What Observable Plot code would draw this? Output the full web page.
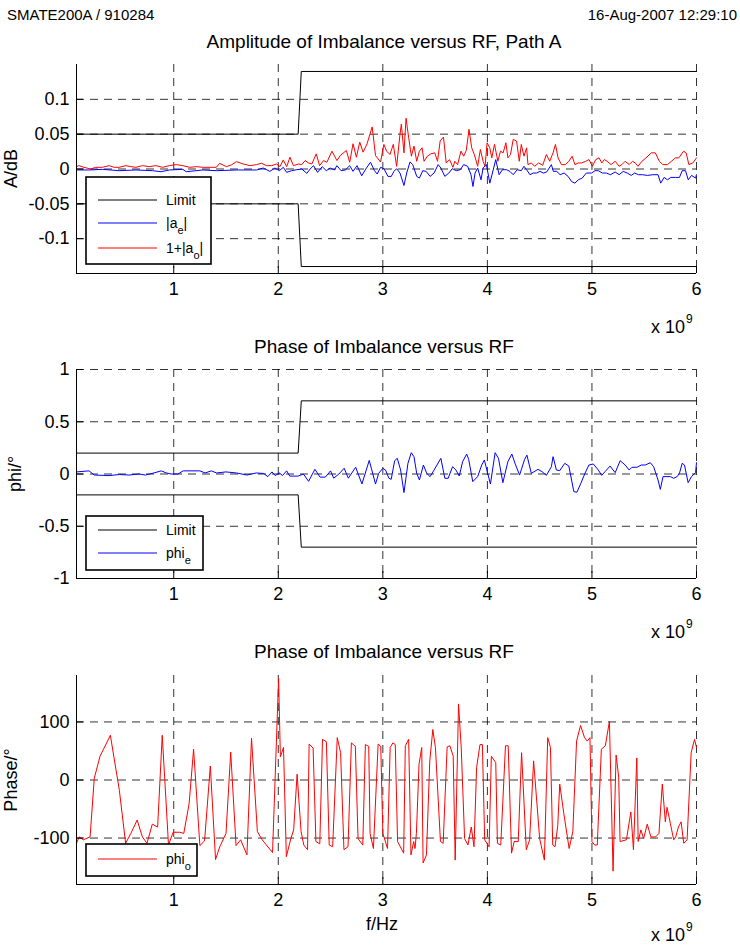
<!DOCTYPE html>
<html><head><meta charset="utf-8">
<script src="https://cdn.jsdelivr.net/npm/d3@7"></script>
<script src="https://cdn.jsdelivr.net/npm/@observablehq/plot@0.6"></script>
<style>
body{margin:0;background:#fff;}
#root{position:relative;width:740px;height:947px;overflow:hidden;background:#fff;font-family:"Liberation Sans",Arial,Helvetica,sans-serif;}
#root svg{position:absolute;left:0;}
</style></head><body><div id="root"></div>
<script>
// ---- axis ticks ----
const xDomain = [0.07, 6];
const xTicks = [1, 2, 3, 4, 5, 6];
const ampTicks = [-0.1, -0.05, 0, 0.05, 0.1];
const phiTicks = [-1, -0.5, 0, 0.5, 1];
const phaseTicks = [-100, 0, 100];

// ---- limits ----
const limitFreq = [0.07, 2.19, 2.22, 6];
const ampLimitUpper = [0.05, 0.05, 0.14, 0.14];
const ampLimitLower = [-0.05, -0.05, -0.14, -0.14];
const phiLimitUpper = [0.2, 0.2, 0.7, 0.7];
const phiLimitLower = [-0.2, -0.2, -0.7, -0.7];

// ---- panel 1: |a_e| (blue), frequency in GHz (x 10^9 Hz) ----
const ampEFreq = [
0.07,0.189,0.318,0.478,0.638,0.798,0.878,0.958,1.087,1.119,
1.279,1.407,1.6,1.792,1.856,1.92,1.968,2.01,2.048,2.08,
2.128,2.177,2.225,2.273,2.305,2.337,2.376,2.42,2.459,2.497,
2.536,2.561,2.6,2.641,2.683,2.715,2.753,2.798,2.843,2.882,
2.92,2.946,2.978,3.01,3.049,3.081,3.106,3.132,3.164,3.202,
3.228,3.26,3.286,3.324,3.35,3.382,3.414,3.452,3.49,3.529,
3.555,3.593,3.631,3.664,3.702,3.741,3.773,3.811,3.843,3.862,
3.882,3.907,3.939,3.959,3.991,4.023,4.048,4.08,4.112,4.144,
4.183,4.215,4.247,4.286,4.324,4.35,4.375,4.407,4.439,4.471,
4.503,4.535,4.567,4.612,4.631,4.663,4.696,4.734,4.772,4.805,
4.837,4.869,4.907,4.946,4.997,5.029,5.061,5.1,5.138,5.177,
5.222,5.26,5.299,5.337,5.376,5.408,5.446,5.485,5.53,5.581,
5.632,5.658,5.69,5.722,5.754,5.799,5.837,5.863,5.895,5.921,
5.953,5.991,6.0];
const ampE = [
-0.0014,-0.0014,-0.0005,-0.0024,-0.0014,-0.0024,-0.0039,-0.0014,-0.0005,-0.0039,
-0.0014,-0.0024,-0.0014,-0.0014,0.0014,-0.0034,0.0014,-0.0024,0.0024,-0.0048,
-0.0024,-0.001,0,-0.0063,0,0.0048,-0.0048,0.0034,-0.0024,0.0014,
-0.0014,0.0048,-0.0024,-0.0014,0.0048,-0.0034,0.0048,-0.0097,0.0014,0.0097,
-0.0024,-0.0072,0.0024,0.0005,-0.0106,-0.0106,-0.0034,0.0005,-0.0058,-0.0237,
-0.0058,0.0101,0.0063,-0.0106,-0.013,-0.0024,-0.0034,-0.0106,-0.0058,0.0063,
0.0014,-0.0106,-0.0058,0.0005,-0.0024,-0.001,0.0063,0.0039,-0.0082,-0.0251,
-0.0058,0.0014,-0.0155,0.0014,0.0063,-0.0203,-0.0058,0.0135,-0.0082,-0.001,
-0.001,-0.0034,-0.0082,-0.001,-0.0024,0.0039,-0.001,-0.0082,-0.0058,-0.0058,
-0.0034,-0.0058,-0.0043,0.0063,-0.0034,-0.0034,-0.0082,-0.0058,-0.0106,-0.0179,
-0.0203,-0.0155,-0.013,-0.0058,-0.0058,-0.0024,-0.0024,-0.0058,-0.0058,-0.0082,
-0.0043,-0.0082,-0.0034,-0.0058,-0.0092,-0.0058,-0.0082,-0.0082,-0.0092,-0.0082,
-0.0082,-0.0203,-0.0121,-0.0155,-0.0121,-0.0121,-0.0121,-0.0024,-0.0024,-0.0155,
-0.0092,-0.013,-0.0082];

// ---- panel 1: 1+|a_o| (red) ----
const ampOFreq = [
0.07,0.093,0.141,0.205,0.254,0.318,0.382,0.43,0.478,0.542,
0.59,0.638,0.702,0.766,0.83,0.894,0.958,1.023,1.087,1.151,
1.215,1.279,1.343,1.407,1.439,1.503,1.551,1.6,1.664,1.728,
1.792,1.84,1.888,1.936,1.984,2.016,2.048,2.08,2.112,2.145,
2.193,2.225,2.257,2.289,2.321,2.363,2.395,2.433,2.465,2.513,
2.561,2.593,2.651,2.683,2.715,2.747,2.779,2.811,2.849,2.898,
2.93,2.978,3.01,3.036,3.068,3.1,3.132,3.164,3.177,3.202,
3.222,3.247,3.273,3.298,3.324,3.35,3.375,3.394,3.426,3.458,
3.497,3.523,3.548,3.58,3.606,3.638,3.67,3.689,3.715,3.747,
3.773,3.798,3.824,3.85,3.875,3.907,3.933,3.959,3.978,3.997,
4.023,4.042,4.068,4.1,4.125,4.151,4.177,4.196,4.221,4.247,
4.279,4.305,4.324,4.35,4.375,4.388,4.42,4.452,4.49,4.529,
4.564,4.596,4.628,4.651,4.676,4.708,4.747,4.779,4.811,4.837,
4.869,4.901,4.94,4.972,5.004,5.036,5.068,5.094,5.119,5.145,
5.183,5.222,5.26,5.286,5.318,5.356,5.388,5.414,5.44,5.478,
5.517,5.568,5.606,5.645,5.677,5.722,5.76,5.799,5.831,5.876,
5.901,5.927,5.965,6.0];
const ampO = [
0.0034,0.0048,0.0024,0,0.0024,0.0024,0.0048,0.0024,0.0024,0.0048,
0.0034,0.0024,0.0048,0.0034,0.0048,0.0024,0.0048,0.0063,0.0048,0.0024,
0.0034,0.0024,0.0024,0.0024,0.0082,0.0034,0.0058,0.0106,0.0072,0.0048,
0.0063,0.0082,0.0048,0.0048,0.0072,0.0034,0.013,0.0034,0.0169,0.0048,
0.0072,0.0063,0.0121,0.0087,0.0072,0.0217,0.0048,0.0121,0.0097,0.0256,
0.0121,0.0193,0.0266,0.0097,0.0362,0.0169,0.0386,0.0242,0.0362,0.0604,
0.0193,0.01,0.0353,0.0256,0.0208,0.0353,0.0039,0.0498,0.0643,0.0232,
0.0729,0.0449,0.0184,0.0329,0.0111,0.0256,0.0304,0.0111,0.0184,0.0217,
0.0232,0.0111,0.0401,0.0459,0.0087,0.0135,0.0024,0.0111,0.0063,0.0256,
0.0184,0.0266,0.057,0.0304,0.0208,0.0039,0.028,0.0111,0.0039,0.0377,
0.0304,0.016,0.0353,0.0111,0.0256,0.0232,0.0377,0.016,0.0208,0.0425,
0.0401,0.0111,0.0353,0.0184,0.0304,0.0063,0.0087,0.0039,0.0087,0.0053,
0.0208,0.0111,0.0232,0.0353,0.016,0.0063,0.0063,0.0111,0.0184,0.0063,
0.0087,0.0087,0.0111,0.0135,0.0039,0.0135,0.016,0.0087,0.0135,0.0111,
0.0063,0.0111,0.0039,0.0063,0.0111,0.0063,0.0111,0.0087,0.0039,0.0111,
0.016,0.0232,0.0232,0.0111,0.0063,0.0063,0.0111,0.016,0.016,0.0256,
0.0232,0.0063,0.0087,0.016];

// ---- panel 2: phi_e (blue) ----
const phiEFreq = [
0.07,0.19,0.24,0.38,0.48,0.57,0.67,0.73,0.81,0.88,
0.93,0.975,1.04,1.09,1.25,1.3,1.36,1.41,1.5,1.6,
1.7,1.79,1.86,1.9,1.94,1.97,2.01,2.04,2.08,2.11,
2.19,2.24,2.29,2.35,2.4,2.45,2.5,2.53,2.58,2.63,
2.67,2.74,2.8,2.87,2.93,2.96,3.0,3.026,3.058,3.08,
3.113,3.138,3.17,3.202,3.24,3.272,3.298,3.324,3.35,3.388,
3.42,3.452,3.49,3.555,3.593,3.625,3.667,3.699,3.731,3.763,
3.802,3.821,3.86,3.907,3.946,3.971,4.003,4.029,4.074,4.106,
4.148,4.196,4.234,4.266,4.308,4.356,4.378,4.42,4.484,4.523,
4.564,4.612,4.628,4.66,4.692,4.74,4.779,4.827,4.856,4.894,
4.933,4.971,5.013,5.061,5.093,5.125,5.173,5.222,5.27,5.318,
5.356,5.382,5.43,5.472,5.51,5.558,5.59,5.632,5.654,5.68,
5.718,5.75,5.782,5.815,5.837,5.863,5.885,5.92,5.952,5.991,
6.0];
const phiE = [
0.02,0.03,-0.01,-0.015,-0.005,-0.01,0,-0.01,0.01,0.03,
0.01,0,0,0.03,0.03,0.01,0.03,0.01,0.02,0.01,
-0.01,0.01,0.005,-0.025,0.02,-0.015,0.01,-0.015,0.03,-0.02,
-0.02,0,-0.07,0.045,-0.03,-0.03,0.03,-0.04,0,0.055,
-0.04,0.065,-0.095,0.13,-0.096,0.006,0.054,0.038,-0.041,-0.051,
0.127,0.15,0.038,-0.178,0.102,0.204,0.166,0.006,-0.057,0.086,
0.006,-0.025,0.038,0.15,-0.041,-0.041,0.07,0.038,-0.019,0.118,
0.191,0.14,-0.073,-0.025,0.086,0.134,0.006,-0.096,0.204,0.15,
-0.083,0.118,0.191,0.096,-0.01,0.14,0.181,0.006,0.045,0.022,
-0.013,0.07,0.166,0.038,0.032,0.102,0.076,-0.169,-0.175,-0.089,
0.006,0.086,0.096,0.038,-0.013,0.022,0.076,0.013,0.127,0.086,
0.038,0.064,0.064,0.086,0.086,0.108,0.07,-0.057,-0.147,-0.025,
-0.025,-0.025,-0.041,-0.025,0.006,0.102,0.086,-0.083,-0.025,0.013,
0.108];

// ---- panel 3: phi_o (red) ----
const phiOFreq = [
0.07,0.096,0.135,0.2,0.24,0.295,0.394,0.48,0.54,0.59,
0.65,0.7,0.744,0.795,0.846,0.89,0.95,0.994,1.058,1.096,
1.147,1.19,1.25,1.295,1.35,1.4,1.44,1.5,1.545,1.596,
1.64,1.7,1.744,1.8,1.846,1.945,2.003,2.02,2.05,2.077,
2.12,2.147,2.18,2.218,2.244,2.28,2.295,2.333,2.36,2.397,
2.423,2.46,2.487,2.52,2.564,2.596,2.628,2.667,2.699,2.737,
2.763,2.808,2.833,2.865,2.878,2.91,2.955,2.98,3.0,3.045,
3.07,3.096,3.119,3.141,3.199,3.215,3.247,3.269,3.295,3.308,
3.321,3.346,3.372,3.385,3.417,3.449,3.478,3.503,3.551,3.577,
3.615,3.641,3.673,3.692,3.724,3.75,3.782,3.814,3.846,3.872,
3.897,3.929,3.952,3.974,4.016,4.038,4.08,4.096,4.128,4.173,
4.199,4.231,4.256,4.295,4.327,4.372,4.404,4.442,4.5,4.545,
4.577,4.603,4.625,4.647,4.673,4.692,4.731,4.782,4.817,4.853,
4.891,4.929,4.955,4.981,5.0,5.026,5.051,5.09,5.128,5.167,
5.202,5.231,5.256,5.269,5.33,5.372,5.397,5.429,5.442,5.468,
5.494,5.529,5.564,5.609,5.641,5.673,5.702,5.718,5.75,5.782,
5.801,5.827,5.853,5.878,5.91,5.949,5.981,6.0];
const phiO = [
-109,-98,-103,-98,3,41,77,-18,-109,-92,
-69,-98,-109,-76,-81,77,-112,-90,-90,-92,
-41,53,-113,-105,24,-137,-115,-92,48,-113,
-103,-129,72,-89,-103,-125,175,40,56,-132,
-101,-86,10,-89,-112,-120,62,55,-106,-110,
70,66,-112,-115,73,47,-120,-115,64,58,
-101,-112,61,58,-92,-118,62,58,-92,-118,
56,64,61,-106,-126,59,70,-129,-106,-118,
-92,27,56,-143,-129,33,87,56,-106,-109,
57,59,41,-138,131,55,-101,-112,-81,-115,
22,61,61,-103,-115,41,30,-109,-112,59,
59,-126,-106,-106,47,-120,-103,33,-101,-138,
73,56,-112,-115,-78,-7,-58,-118,-89,67,
94,73,67,73,-106,-112,-112,53,59,101,
-157,43,5,-106,-103,-55,-120,38,-106,-86,
-101,-76,-98,-98,-92,-7,-72,-47,-75,-103,
-98,-81,-72,-109,-103,47,70,56];

const FONT = '"Liberation Sans", Arial, Helvetica, sans-serif';
const root = document.getElementById("root");
const gridStyle = {stroke: "black", strokeOpacity: 0.8, strokeWidth: 1, strokeDasharray: "8,6"};

function panel({top, height, marginTop, yDomain, yTicks, marks}) {
  const svg = Plot.plot({
    width: 740, height,
    marginLeft: 76, marginRight: 44, marginTop, marginBottom: height - marginTop - 209,
    style: {fontFamily: FONT, fontSize: "18px", color: "black", background: "transparent", overflow: "visible"},
    x: {domain: xDomain},
    y: {domain: yDomain},
    marks: [
      Plot.gridX(xTicks, gridStyle),
      Plot.gridY(yTicks, gridStyle),
      ...marks,
      Plot.ruleX([xDomain[0]], {stroke: "black", strokeWidth: 1}),
      Plot.ruleY([yDomain[0]], {stroke: "black", strokeWidth: 1}),
      Plot.axisX(xTicks, {tickSize: -7, tickPadding: 16, tickFormat: d => String(d), label: null, fontSize: 18}),
      Plot.axisY(yTicks, {tickSize: -7, tickPadding: 14, tickFormat: d => String(d), label: null, fontSize: 18})
    ]
  });
  svg.style.top = top + "px";
  root.appendChild(svg);
}

panel({top: 50, height: 250, marginTop: 14, yDomain: [-0.15, 0.15], yTicks: ampTicks, marks: [
  Plot.line(ampLimitUpper, {x: limitFreq, y: ampLimitUpper, stroke: "black", strokeWidth: 1}),
  Plot.line(ampLimitLower, {x: limitFreq, y: ampLimitLower, stroke: "black", strokeWidth: 1}),
  Plot.line(ampE, {x: ampEFreq, y: ampE, stroke: "#0000ff", strokeWidth: 1}),
  Plot.line(ampO, {x: ampOFreq, y: ampO, stroke: "#ff0000", strokeWidth: 1})
]});
panel({top: 355, height: 252, marginTop: 14, yDomain: [-1, 1], yTicks: phiTicks, marks: [
  Plot.line(phiLimitUpper, {x: limitFreq, y: phiLimitUpper, stroke: "black", strokeWidth: 1}),
  Plot.line(phiLimitLower, {x: limitFreq, y: phiLimitLower, stroke: "black", strokeWidth: 1}),
  Plot.line(phiE, {x: phiEFreq, y: phiE, stroke: "#0000ff", strokeWidth: 1})
]});
panel({top: 661, height: 252, marginTop: 14, yDomain: [-180, 180], yTicks: phaseTicks, marks: [
  Plot.line(phiO, {x: phiOFreq, y: phiO, stroke: "#ff0000", strokeWidth: 1})
]});

// ---- overlay: header, titles, labels, legends ----
const ov = d3.select(root).append("svg")
  .attr("width", 740).attr("height", 947)
  .style("top", "0px").style("font-family", FONT);

function txt(x, y, s, size, anchor = "start", rot = false) {
  const t = ov.append("text").attr("font-size", size).attr("text-anchor", anchor).attr("fill", "black");
  if (rot) t.attr("transform", `translate(${x},${y}) rotate(-90)`);
  else t.attr("x", x).attr("y", y);
  t.text(s);
  return t;
}
txt(7, 20, "SMATE200A / 910284", 15);
txt(737, 20, "16-Aug-2007 12:29:10", 15, "end");
txt(384, 48, "Amplitude of Imbalance versus RF, Path A", 19, "middle");
txt(384, 353, "Phase of Imbalance versus RF", 19, "middle");
txt(384, 658, "Phase of Imbalance versus RF", 19, "middle");
txt(17, 168.5, "A/dB", 18, "middle", true);
txt(21, 474, "phi/\u00b0", 18, "middle", true);
txt(17, 780, "Phase/\u00b0", 18, "middle", true);
txt(382, 930, "f/Hz", 18, "middle");
for (const by of [333, 638, 941]) {
  const t = txt(651, by, "x 10", 18);
  t.append("tspan").attr("font-size", 12).attr("dy", -10).attr("dx", 1).text("9");
}

function legend(x, y, w, h, rows) {
  ov.append("rect").attr("x", x).attr("y", y).attr("width", w).attr("height", h)
    .attr("fill", "white").attr("stroke", "black").attr("stroke-width", 1.6);
  for (const r of rows) {
    ov.append("line").attr("x1", 98).attr("x2", 157).attr("y1", r.y).attr("y2", r.y)
      .attr("stroke", r.color).attr("stroke-width", 1);
    const t = ov.append("text").attr("x", 166).attr("y", r.y + 5).attr("font-size", 14).attr("fill", "black");
    t.append("tspan").text(r.main);
    if (r.sub) {
      t.append("tspan").attr("font-size", 11).attr("dy", 6).text(r.sub);
      if (r.after) t.append("tspan").attr("dy", -6).text(r.after);
    }
  }
}
legend(86, 177, 125, 87, [
  {y: 200, color: "black", main: "Limit"},
  {y: 223, color: "#0000ff", main: "|a", sub: "e", after: "|"},
  {y: 248, color: "#ff0000", main: "1+|a", sub: "o", after: "|"}
]);
legend(86, 516, 117, 54, [
  {y: 530, color: "black", main: "Limit"},
  {y: 553, color: "#0000ff", main: "phi", sub: "e"}
]);
legend(86, 844, 111, 32, [
  {y: 859, color: "#ff0000", main: "phi", sub: "o"}
]);
</script></body></html>
